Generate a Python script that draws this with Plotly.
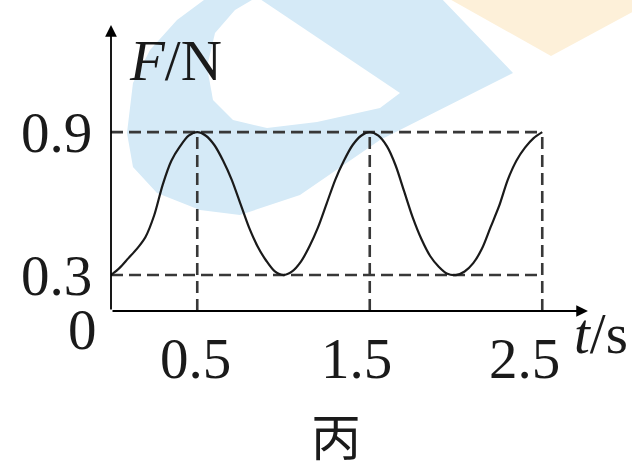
import plotly.graph_objects as go

# F-t curve
t_vals = [0.0, 0.05, 0.1, 0.15, 0.2, 0.25, 0.3, 0.35, 0.4, 0.45, 0.5,
          0.55, 0.6, 0.65, 0.7, 0.75, 0.8, 0.85, 0.9, 0.95, 1.0,
          1.05, 1.1, 1.15, 1.2, 1.25, 1.3, 1.35, 1.4, 1.45, 1.5,
          1.55, 1.6, 1.65, 1.7, 1.75, 1.8, 1.85, 1.9, 1.95, 2.0,
          2.05, 2.1, 2.15, 2.2, 2.25, 2.3, 2.35, 2.4, 2.45, 2.5]
f_vals = [0.30, 0.33, 0.37, 0.41, 0.46, 0.55, 0.68, 0.78, 0.84, 0.885, 0.90,
          0.885, 0.845, 0.78, 0.70, 0.60, 0.50, 0.42, 0.36, 0.315, 0.30,
          0.315, 0.355, 0.42, 0.50, 0.60, 0.70, 0.78, 0.845, 0.885, 0.90,
          0.885, 0.84, 0.76, 0.65, 0.54, 0.45, 0.38, 0.335, 0.305, 0.30,
          0.315, 0.35, 0.41, 0.50, 0.59, 0.70, 0.78, 0.835, 0.875, 0.90]

f_max = 0.9
f_min = 0.3
peak_times = [0.5, 1.5, 2.5]
t_end = 2.5

y_ticks = [0.9, 0.3]
y_tick_text = ["0.9", "0.3"]
x_ticks = [0.5, 1.5, 2.5]
x_tick_text = ["0.5", "1.5", "2.5"]

# layout (pixels)
W_FIG, H_FIG = 632, 462
L, T, W, H = 111, 20, 480, 291
X_RANGE = [0, 2.7826]
Y_RANGE = [0.149, 1.371]

SERIF = "Liberation Serif, Times New Roman, serif"
INK = "#1a1a1a"
DASH_C = "#383838"


def paper(px, py):
    return (px - L) / W, (T + H - py) / H


def poly_path(pts):
    out = []
    for i, (px, py) in enumerate(pts):
        x, y = paper(px, py)
        out.append(("M" if i == 0 else "L") + f"{x:.4f},{y:.4f}")
    return " ".join(out) + " Z"


# watermark behind the chart
blue_outer = [(208, -3), (177, 20), (150, 50), (133, 83), (127, 133), (133, 167),
              (157, 193), (200, 210), (240, 215), (300, 195), (380, 140),
              (513, 73), (440, -3)]
blue_hole = [(257, -3), (400, 93), (380, 108), (317, 122), (267, 128), (233, 120),
             (213, 100), (207, 67), (215, 33), (235, 10)]
orange = [(446, -3), (551, 56), (640, 8), (640, -3)]

fig = go.Figure()

x0 = X_RANGE[0]
yb = Y_RANGE[0]

# dashed guide lines
dash_style = dict(color=DASH_C, width=2.6, dash="12px,6px")
for fy in [f_max, f_min]:
    fig.add_trace(go.Scatter(x=[x0, t_end], y=[fy, fy], mode="lines",
                             line=dash_style, hoverinfo="skip"))
for tp in peak_times:
    fig.add_trace(go.Scatter(x=[tp, tp], y=[yb, f_max], mode="lines",
                             line=dash_style, hoverinfo="skip"))

# the curve
fig.add_trace(go.Scatter(x=t_vals, y=f_vals, mode="lines",
                         line=dict(color=INK, width=2.2, shape="spline", smoothing=0.8),
                         hoverinfo="skip"))

annotations = []
# axes with arrows
annotations.append(dict(x=x0, y=1.35, ax=x0, ay=yb, xref="x", yref="y",
                        axref="x", ayref="y", text="", showarrow=True,
                        arrowhead=2, arrowsize=1.3, arrowwidth=1.8, arrowcolor="#000"))
annotations.append(dict(x=2.765, y=yb, ax=x0, ay=yb, xref="x", yref="y",
                        axref="x", ayref="y", text="", showarrow=True,
                        arrowhead=2, arrowsize=1.3, arrowwidth=1.8, arrowcolor="#000"))

font = dict(family=SERIF, size=57, color=INK)
for v, s in zip(y_ticks, y_tick_text):
    annotations.append(dict(x=x0, y=v, xref="x", yref="y", text=s, showarrow=False,
                            xanchor="right", yanchor="middle", xshift=-17, yshift=0,
                            font=font))
x_shift = {0.5: -2, 1.5: -13, 2.5: -18}
for v, s in zip(x_ticks, x_tick_text):
    annotations.append(dict(x=v, y=yb, xref="x", yref="y", text=s, showarrow=False,
                            xanchor="center", yanchor="top", xshift=x_shift[v], yshift=-14,
                            font=font))
annotations.append(dict(x=x0, y=yb, xref="x", yref="y", text="0", showarrow=False,
                        xanchor="right", yanchor="top", xshift=-12, yshift=15, font=font))
annotations.append(dict(x=x0, y=1.35, xref="x", yref="y", text="<i>F</i>/N",
                        showarrow=False, xanchor="left", yanchor="top",
                        xshift=16, yshift=-2, font=font))
annotations.append(dict(x=2.765, y=yb, xref="x", yref="y", text="<i>t</i>/s",
                        showarrow=False, xanchor="left", yanchor="middle",
                        xshift=-16, yshift=-22, font=font))
annotations.append(dict(x=0.5, y=0.0, xref="paper", yref="paper", text="丙",
                        showarrow=False, xanchor="center", yanchor="top",
                        xshift=-15, yshift=-85,
                        font=dict(family="Noto Sans CJK SC", size=50, color=INK)))

fig.update_layout(
    width=W_FIG, height=H_FIG,
    margin=dict(l=L, r=W_FIG - L - W, t=T, b=H_FIG - T - H),
    paper_bgcolor="white", plot_bgcolor="rgba(0,0,0,0)",
    showlegend=False,
    xaxis=dict(range=X_RANGE, visible=False, fixedrange=True),
    yaxis=dict(range=Y_RANGE, visible=False, fixedrange=True),
    annotations=annotations,
    shapes=[
        dict(type="path", xref="paper", yref="paper", path=poly_path(blue_outer),
             fillcolor="#d5eaf7", line=dict(width=0), layer="below"),
        dict(type="path", xref="paper", yref="paper", path=poly_path(blue_hole),
             fillcolor="white", line=dict(width=0), layer="below"),
        dict(type="path", xref="paper", yref="paper", path=poly_path(orange),
             fillcolor="#fdf0d9", line=dict(width=0), layer="below"),
    ],
)

# page body has a default 8px margin; drop it so the figure sits at the corner
fig.write_html("out.html", config={"displayModeBar": False},
               post_script="document.body.style.margin='0';")
